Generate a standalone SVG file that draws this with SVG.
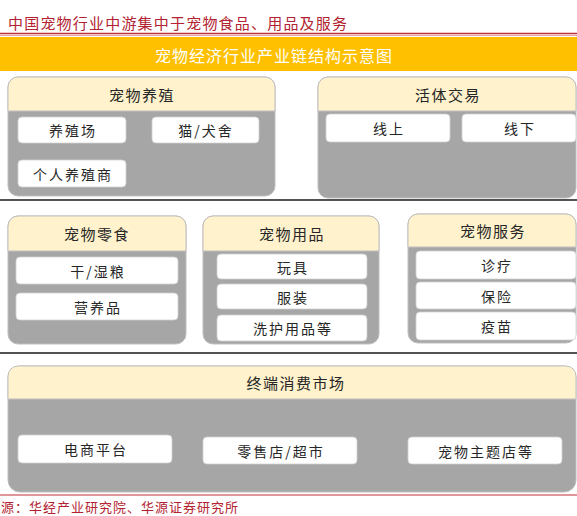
<svg xmlns="http://www.w3.org/2000/svg" width="577" height="516" viewBox="0 0 577 516">
<style>
text{font-family:"Noto Sans CJK SC","Noto Sans",sans-serif;}
.body{fill:#A6A6A6;stroke:#BFBFBF;stroke-width:1;}
.head{fill:#FFF2CC;stroke:#BFBFBF;stroke-width:1;}
.item{fill:#FFFFFF;stroke:#D0D0D0;stroke-width:0.8;}
.ht{font-size:15px;fill:#262626;text-anchor:middle;dominant-baseline:central;letter-spacing:1.5px;}
.it{font-size:14px;fill:#262626;text-anchor:middle;dominant-baseline:central;letter-spacing:2px;}
.sep{stroke:#1a1a1a;stroke-width:1.5;}
</style>
<rect x="0" y="0" width="577" height="516" fill="#FFFFFF"/>
<text x="8" y="29" style="font-size:15px;fill:#B22230;letter-spacing:1.2px;">中国宠物行业中游集中于宠物食品、用品及服务</text>
<line x1="0" y1="33.5" x2="577" y2="33.5" stroke="#C0303A" stroke-width="1.5"/>
<line x1="0" y1="35.5" x2="577" y2="35.5" stroke="#E8A0A8" stroke-width="1"/>
<rect x="0" y="37" width="577" height="34" fill="#FFC000"/>
<text x="274" y="55" style="font-size:16px;fill:#FFFFFF;text-anchor:middle;dominant-baseline:central;letter-spacing:1px;">宠物经济行业产业链结构示意图</text>

<g id="connectors">
<line class="sep" x1="0" y1="200" x2="577" y2="200"/>
<line class="sep" x1="0" y1="353" x2="577" y2="353"/>
</g>

<g id="breeding">
<rect class="body" x="8" y="77" width="267" height="119" rx="10"/>
<path class="head" d="M8,111 V87 A10,10 0 0 1 18,77 H265 A10,10 0 0 1 275,87 V111 Z"/>
<text class="ht" x="142" y="94">宠物养殖</text>
<rect class="item" x="18" y="117" width="108" height="26" rx="4"/>
<text class="it" x="73" y="130">养殖场</text>
<rect class="item" x="152" y="117" width="107" height="26" rx="4"/>
<text class="it" x="206" y="130">猫/犬舍</text>
<rect class="item" x="18" y="160" width="108" height="27" rx="4"/>
<text class="it" x="73" y="173.5">个人养殖商</text>
</g>

<g id="live-trade">
<rect class="body" x="318" y="77" width="258" height="121" rx="10"/>
<path class="head" d="M318,111 V87 A10,10 0 0 1 328,77 H566 A10,10 0 0 1 576,87 V111 Z"/>
<text class="ht" x="448" y="94">活体交易</text>
<rect class="item" x="326" y="114" width="124" height="28" rx="4"/>
<text class="it" x="389" y="128">线上</text>
<rect class="item" x="462" y="114" width="114" height="28" rx="4"/>
<text class="it" x="520" y="128">线下</text>
</g>

<g id="snacks">
<rect class="body" x="8" y="216" width="178" height="128" rx="10"/>
<path class="head" d="M8,251 V226 A10,10 0 0 1 18,216 H176 A10,10 0 0 1 186,226 V251 Z"/>
<text class="ht" x="97" y="233.5">宠物零食</text>
<rect class="item" x="16" y="257" width="162" height="27" rx="4"/>
<text class="it" x="98" y="270.5">干/湿粮</text>
<rect class="item" x="16" y="293" width="162" height="27" rx="4"/>
<text class="it" x="98" y="306.5">营养品</text>
</g>

<g id="supplies">
<rect class="body" x="203" y="216" width="176" height="128" rx="10"/>
<path class="head" d="M203,251 V226 A10,10 0 0 1 213,216 H369 A10,10 0 0 1 379,226 V251 Z"/>
<text class="ht" x="292" y="233.5">宠物用品</text>
<rect class="item" x="217" y="254" width="150" height="25" rx="4"/>
<text class="it" x="293" y="266.5">玩具</text>
<rect class="item" x="217" y="284" width="150" height="25" rx="4"/>
<text class="it" x="293" y="296.5">服装</text>
<rect class="item" x="217" y="315" width="150" height="26" rx="4"/>
<text class="it" x="293" y="328">洗护用品等</text>
</g>

<g id="services">
<rect class="body" x="408" y="214" width="168" height="129" rx="10"/>
<path class="head" d="M408,247 V224 A10,10 0 0 1 418,214 H566 A10,10 0 0 1 576,224 V247 Z"/>
<text class="ht" x="493" y="230.5">宠物服务</text>
<rect class="item" x="416" y="251" width="160" height="28" rx="4"/>
<text class="it" x="497" y="265">诊疗</text>
<rect class="item" x="416" y="282" width="160" height="27" rx="4"/>
<text class="it" x="497" y="295.5">保险</text>
<rect class="item" x="416" y="312" width="160" height="28" rx="4"/>
<text class="it" x="497" y="326">疫苗</text>
</g>

<g id="market">
<rect class="body" x="8" y="366" width="568" height="126" rx="12"/>
<path class="head" d="M8,399 V376 A10,10 0 0 1 18,366 H566 A10,10 0 0 1 576,376 V399 Z"/>
<text class="ht" x="296" y="382.5">终端消费市场</text>
<rect class="item" x="18" y="435" width="154" height="28" rx="4"/>
<text class="it" x="96" y="449">电商平台</text>
<rect class="item" x="203" y="437" width="154" height="27" rx="4"/>
<text class="it" x="281" y="450.5">零售店/超市</text>
<rect class="item" x="408" y="437" width="154" height="27" rx="4"/>
<text class="it" x="486" y="450.5">宠物主题店等</text>
</g>

<line x1="0" y1="495" x2="577" y2="495" stroke="#C0303A" stroke-width="1.2"/>
<text x="1" y="512" style="font-size:13px;fill:#B22230;letter-spacing:1px;">源：华经产业研究院、华源证券研究所</text>
</svg>
